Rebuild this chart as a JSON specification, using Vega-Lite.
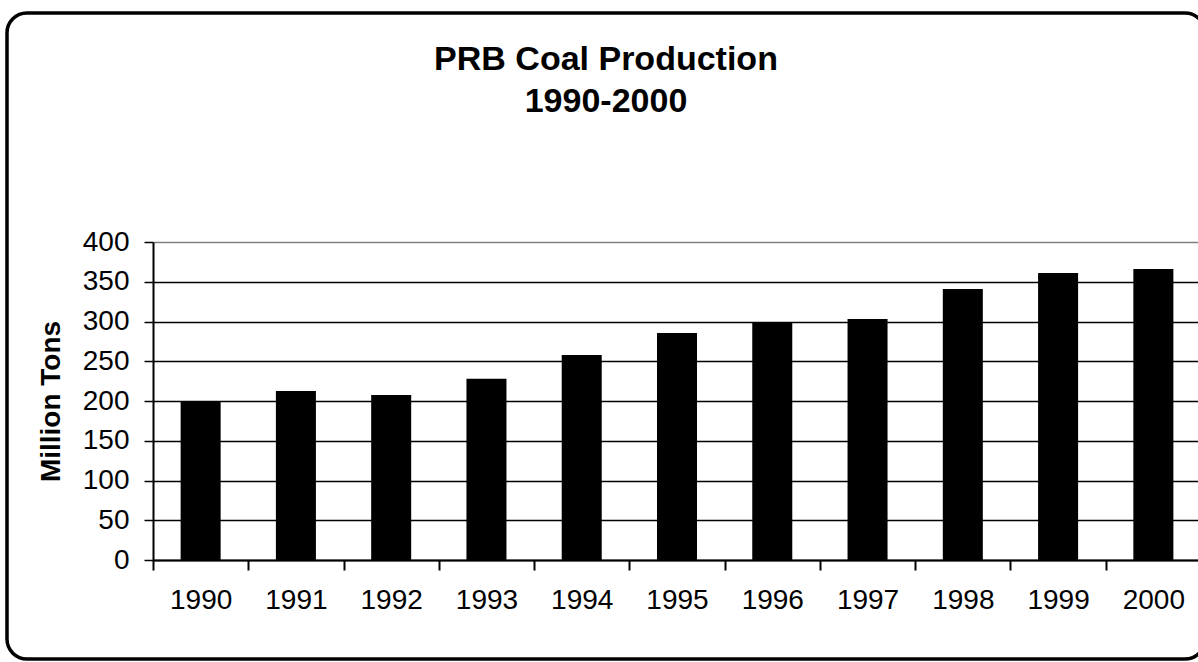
{
  "$schema": "https://vega.github.io/schema/vega-lite/v6.json",
  "autosize": "none",
  "padding": {"left": 7, "top": 13, "right": -7, "bottom": 3},
  "width": 1198,
  "height": 646,
  "background": "white",
  "title": {
    "text": ["PRB Coal Production", "1990-2000"],
    "font": "Liberation Sans",
    "fontSize": 34,
    "fontWeight": "bold",
    "color": "black",
    "lineHeight": 42,
    "anchor": "middle",
    "frame": "group",
    "offset": -106
  },
  "data": {
    "values": [
      {"year": "1990", "tons": 200},
      {"year": "1991", "tons": 212.6},
      {"year": "1992", "tons": 207.5},
      {"year": "1993", "tons": 228},
      {"year": "1994", "tons": 258},
      {"year": "1995", "tons": 285.5},
      {"year": "1996", "tons": 298},
      {"year": "1997", "tons": 303},
      {"year": "1998", "tons": 341},
      {"year": "1999", "tons": 361},
      {"year": "2000", "tons": 366}
    ]
  },
  "mark": {"type": "bar", "color": "black", "width": {"band": 0.42}},
  "encoding": {
    "x": {
      "field": "year",
      "type": "ordinal",
      "scale": {"range": [146, 1194], "paddingInner": 0, "paddingOuter": 0},
      "axis": {
        "title": null,
        "orient": "bottom",
        "offset": -99,
        "tickBand": "extent",
        "tickSize": 10,
        "tickWidth": 2,
        "tickColor": "black",
        "domainColor": "black",
        "domainWidth": 2,
        "labelFont": "Liberation Sans",
        "labelFontSize": 28,
        "labelColor": "black",
        "labelPadding": 16,
        "labelAngle": 0,
        "grid": false
      }
    },
    "y": {
      "field": "tons",
      "type": "quantitative",
      "scale": {"domain": [0, 400], "range": [547, 229], "nice": false, "zero": true},
      "axis": {
        "title": "Million Tons",
        "titleFont": "Liberation Sans",
        "titleFontSize": 28,
        "titleFontWeight": "bold",
        "titleColor": "black",
        "titlePadding": 17,
        "orient": "left",
        "offset": -146,
        "values": [0, 50, 100, 150, 200, 250, 300, 350, 400],
        "tickSize": 9,
        "tickWidth": 1.5,
        "tickColor": "black",
        "domainColor": "black",
        "domainWidth": 2,
        "labelFont": "Liberation Sans",
        "labelFontSize": 28,
        "labelColor": "black",
        "labelPadding": 15,
        "grid": true,
        "gridColor": {"condition": {"test": "datum.value === 400", "value": "#808080"}, "value": "black"},
        "gridWidth": 1.5,
        "gridOpacity": 1
      }
    }
  },
  "config": {
    "view": {"stroke": "black", "strokeWidth": 3.5, "cornerRadius": 20, "fill": "white"}
  }
}
